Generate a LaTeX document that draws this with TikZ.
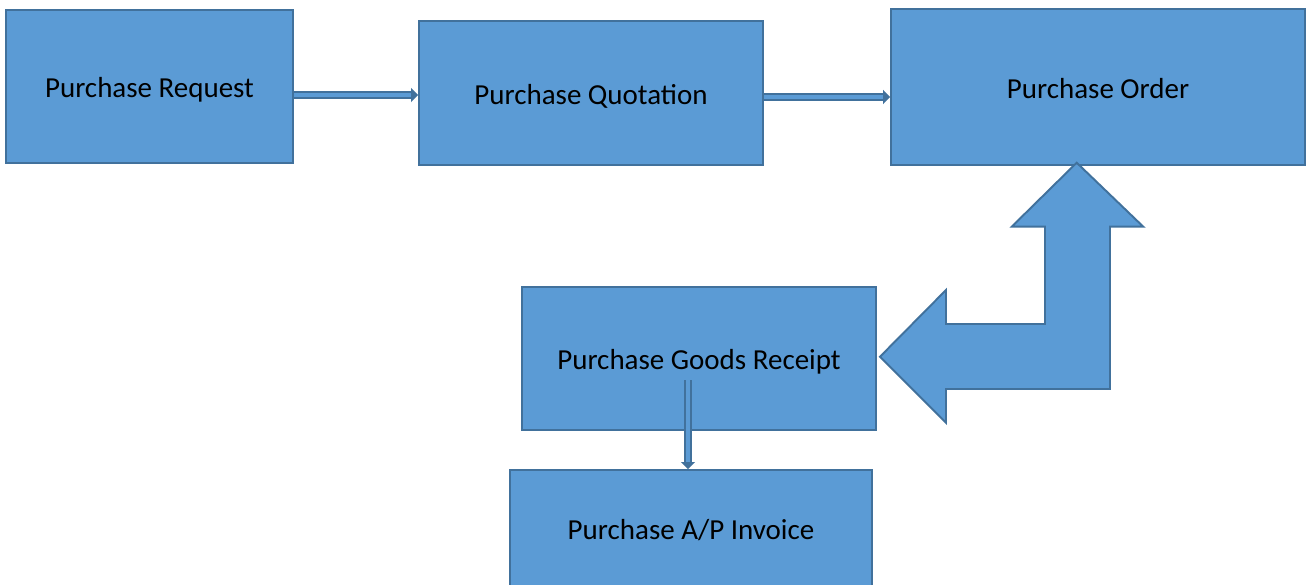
\documentclass[tikz,border=0pt]{standalone}
\usepackage{fontspec}
\setmainfont{Carlito}
\usetikzlibrary{arrows.meta}

\definecolor{boxblue}{HTML}{5B9BD5}
\definecolor{edgeblue}{HTML}{41719C}

\tikzset{
  stagebox/.style={rectangle, draw=edgeblue, fill=boxblue, line width=1.1pt, text height=13pt, text depth=0pt, font=\fontsize{16.5}{20}\selectfont},
  thinarrow/.style={draw=edgeblue, line width=0.9pt, double=boxblue, double distance=2.6pt, -{Triangle[length=4pt, width=8pt]}}
}

\begin{document}
\begin{tikzpicture}[x=0.02cm, y=-0.02cm]
    \useasboundingbox (0, 0) rectangle (1306, 585);

    \node[stagebox, minimum width=5.74cm, minimum height=3.06cm] (req) at (149.5, 86.5) {Purchase Request};
    \node[stagebox, minimum width=6.88cm, minimum height=2.88cm] (quo) at (591, 93) {Purchase Quotation};
    \node[stagebox, minimum width=8.28cm, minimum height=3.12cm] (ord) at (1098, 87) {Purchase Order};
    \node[stagebox, minimum width=7.08cm, minimum height=2.86cm] (rec) at (699, 358.5) {Purchase Goods Receipt};
    \node[stagebox, minimum width=7.24cm, minimum height=2.32cm] (inv) at (691, 528) {Purchase A/P Invoice};

    % 線を引く
    \draw[thinarrow] ([yshift=-0.04cm]req.east |- quo.west) -- ([yshift=-0.04cm]quo.west);
    \draw[thinarrow] ([yshift=-0.08cm]quo.east) -- ([yshift=-0.08cm]quo.east -| ord.west);
    \coordinate (g) at (688, 380);
    \draw[thinarrow] (g) -- (g |- inv.north);

    % 曲がり矢印
    \draw[draw=edgeblue, fill=boxblue, line width=1.1pt, line join=miter]
      (1076.7, 162.7) -- (1143.3, 226.7) -- (1110, 226.7) -- (1110, 389)
      -- (946, 389) -- (946, 422.7) -- (880, 356.7) -- (946, 290)
      -- (946, 324) -- (1045, 324) -- (1045, 226.7) -- (1011.7, 226.7) -- cycle;

\end{tikzpicture}
\end{document}
